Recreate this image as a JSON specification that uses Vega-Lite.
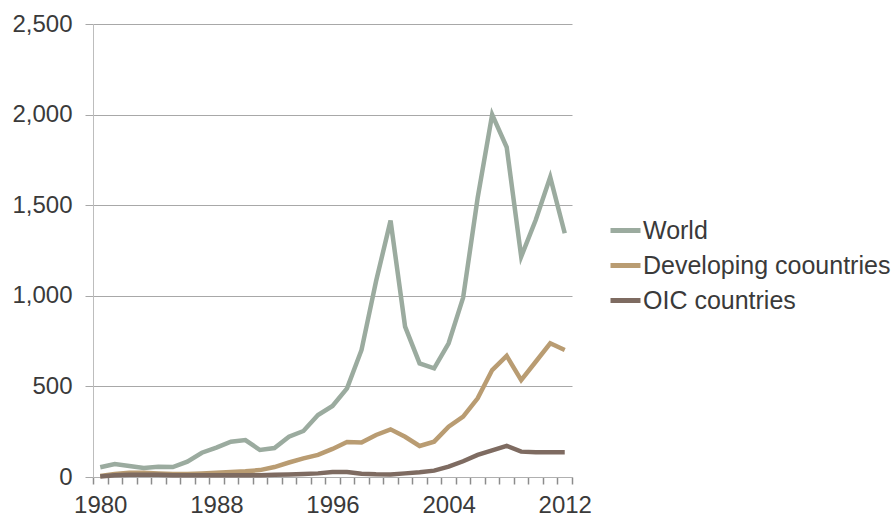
{
  "$schema": "https://vega.github.io/schema/vega-lite/v6.json",
  "autosize": "none",
  "padding": {"left": 93, "top": 24, "right": 319, "bottom": 40},
  "width": 479,
  "height": 453,
  "background": "white",
  "config": {
    "font": "Liberation Sans",
    "view": {"stroke": null},
    "axisX": {"ticks": true, "tickSize": 7, "tickColor": "#8c8c8c", "tickWidth": 1.5, "tickOpacity": 1}
  },
  "datasets": {
    "rows": [
      {"year": 1980, "series": "World", "value": 54},
      {"year": 1981, "series": "World", "value": 72},
      {"year": 1982, "series": "World", "value": 61},
      {"year": 1983, "series": "World", "value": 50},
      {"year": 1984, "series": "World", "value": 57},
      {"year": 1985, "series": "World", "value": 55},
      {"year": 1986, "series": "World", "value": 85},
      {"year": 1987, "series": "World", "value": 134},
      {"year": 1988, "series": "World", "value": 162},
      {"year": 1989, "series": "World", "value": 195},
      {"year": 1990, "series": "World", "value": 204},
      {"year": 1991, "series": "World", "value": 149},
      {"year": 1992, "series": "World", "value": 160},
      {"year": 1993, "series": "World", "value": 222},
      {"year": 1994, "series": "World", "value": 254},
      {"year": 1995, "series": "World", "value": 342},
      {"year": 1996, "series": "World", "value": 392},
      {"year": 1997, "series": "World", "value": 489},
      {"year": 1998, "series": "World", "value": 701},
      {"year": 1999, "series": "World", "value": 1080},
      {"year": 2000, "series": "World", "value": 1415},
      {"year": 2001, "series": "World", "value": 830},
      {"year": 2002, "series": "World", "value": 627},
      {"year": 2003, "series": "World", "value": 600},
      {"year": 2004, "series": "World", "value": 738},
      {"year": 2005, "series": "World", "value": 990},
      {"year": 2006, "series": "World", "value": 1540},
      {"year": 2007, "series": "World", "value": 2000},
      {"year": 2008, "series": "World", "value": 1820},
      {"year": 2009, "series": "World", "value": 1216},
      {"year": 2010, "series": "World", "value": 1418},
      {"year": 2011, "series": "World", "value": 1655},
      {"year": 2012, "series": "World", "value": 1345},
      {"year": 1980, "series": "Developing coountries", "value": 5},
      {"year": 1981, "series": "Developing coountries", "value": 17},
      {"year": 1982, "series": "Developing coountries", "value": 24},
      {"year": 1983, "series": "Developing coountries", "value": 24},
      {"year": 1984, "series": "Developing coountries", "value": 20},
      {"year": 1985, "series": "Developing coountries", "value": 17},
      {"year": 1986, "series": "Developing coountries", "value": 17},
      {"year": 1987, "series": "Developing coountries", "value": 20},
      {"year": 1988, "series": "Developing coountries", "value": 24},
      {"year": 1989, "series": "Developing coountries", "value": 28},
      {"year": 1990, "series": "Developing coountries", "value": 32},
      {"year": 1991, "series": "Developing coountries", "value": 38},
      {"year": 1992, "series": "Developing coountries", "value": 55},
      {"year": 1993, "series": "Developing coountries", "value": 80},
      {"year": 1994, "series": "Developing coountries", "value": 103},
      {"year": 1995, "series": "Developing coountries", "value": 122},
      {"year": 1996, "series": "Developing coountries", "value": 155},
      {"year": 1997, "series": "Developing coountries", "value": 193},
      {"year": 1998, "series": "Developing coountries", "value": 190},
      {"year": 1999, "series": "Developing coountries", "value": 232},
      {"year": 2000, "series": "Developing coountries", "value": 263},
      {"year": 2001, "series": "Developing coountries", "value": 222},
      {"year": 2002, "series": "Developing coountries", "value": 171},
      {"year": 2003, "series": "Developing coountries", "value": 195},
      {"year": 2004, "series": "Developing coountries", "value": 278},
      {"year": 2005, "series": "Developing coountries", "value": 333},
      {"year": 2006, "series": "Developing coountries", "value": 434},
      {"year": 2007, "series": "Developing coountries", "value": 590},
      {"year": 2008, "series": "Developing coountries", "value": 668},
      {"year": 2009, "series": "Developing coountries", "value": 535},
      {"year": 2010, "series": "Developing coountries", "value": 636},
      {"year": 2011, "series": "Developing coountries", "value": 738},
      {"year": 2012, "series": "Developing coountries", "value": 701},
      {"year": 1980, "series": "OIC countries", "value": 3},
      {"year": 1981, "series": "OIC countries", "value": 10},
      {"year": 1982, "series": "OIC countries", "value": 12},
      {"year": 1983, "series": "OIC countries", "value": 12},
      {"year": 1984, "series": "OIC countries", "value": 12},
      {"year": 1985, "series": "OIC countries", "value": 10},
      {"year": 1986, "series": "OIC countries", "value": 10},
      {"year": 1987, "series": "OIC countries", "value": 10},
      {"year": 1988, "series": "OIC countries", "value": 10},
      {"year": 1989, "series": "OIC countries", "value": 10},
      {"year": 1990, "series": "OIC countries", "value": 10},
      {"year": 1991, "series": "OIC countries", "value": 10},
      {"year": 1992, "series": "OIC countries", "value": 12},
      {"year": 1993, "series": "OIC countries", "value": 14},
      {"year": 1994, "series": "OIC countries", "value": 17},
      {"year": 1995, "series": "OIC countries", "value": 20},
      {"year": 1996, "series": "OIC countries", "value": 28},
      {"year": 1997, "series": "OIC countries", "value": 27},
      {"year": 1998, "series": "OIC countries", "value": 18},
      {"year": 1999, "series": "OIC countries", "value": 15},
      {"year": 2000, "series": "OIC countries", "value": 14},
      {"year": 2001, "series": "OIC countries", "value": 20},
      {"year": 2002, "series": "OIC countries", "value": 26},
      {"year": 2003, "series": "OIC countries", "value": 35},
      {"year": 2004, "series": "OIC countries", "value": 57},
      {"year": 2005, "series": "OIC countries", "value": 87},
      {"year": 2006, "series": "OIC countries", "value": 122},
      {"year": 2007, "series": "OIC countries", "value": 147},
      {"year": 2008, "series": "OIC countries", "value": 172},
      {"year": 2009, "series": "OIC countries", "value": 140},
      {"year": 2010, "series": "OIC countries", "value": 137},
      {"year": 2011, "series": "OIC countries", "value": 137},
      {"year": 2012, "series": "OIC countries", "value": 137}
    ]
  },
  "data": {"name": "rows"},
  "mark": {"type": "line", "strokeWidth": 4.5, "strokeJoin": "miter"},
  "encoding": {
    "x": {
      "field": "year",
      "type": "quantitative",
      "scale": {"domain": [1979.5, 2012.5], "nice": false, "zero": false},
      "axis": {
        "title": null,
        "values": [1979.5, 1980.5, 1981.5, 1982.5, 1983.5, 1984.5, 1985.5, 1986.5, 1987.5, 1988.5, 1989.5, 1990.5, 1991.5, 1992.5, 1993.5, 1994.5, 1995.5, 1996.5, 1997.5, 1998.5, 1999.5, 2000.5, 2001.5, 2002.5, 2003.5, 2004.5, 2005.5, 2006.5, 2007.5, 2008.5, 2009.5, 2010.5, 2011.5, 2012.5],
        "labelExpr": "(datum.value - 1979.5) % 8 === 0 ? format(datum.value + 0.5, 'd') : ''",
        "labelOffset": 7.26,
        "labelAngle": 0,
        "labelOverlap": false,
        "labelFlush": false,
        "labelBound": false,
        "labelFontSize": 24,
        "labelColor": "#3a3a3a",
        "labelPadding": 9,
        "ticks": true,
        "tickSize": 7,
        "tickWidth": 1.5,
        "tickColor": "#8c8c8c",
        "tickOpacity": 1,
        "domainColor": "#b0b0b0",
        "grid": false
      }
    },
    "y": {
      "field": "value",
      "type": "quantitative",
      "scale": {"domain": [0, 2500], "nice": false},
      "axis": {
        "title": null,
        "values": [0, 500, 1000, 1500, 2000, 2500],
        "format": ",d",
        "labelFontSize": 24,
        "labelColor": "#3a3a3a",
        "labelPadding": 13,
        "tickSize": 8,
        "tickColor": "#a8a8a8",
        "domainColor": "#bdbdbd",
        "gridColor": "#a8a8a8",
        "grid": true
      }
    },
    "color": {
      "field": "series",
      "type": "nominal",
      "scale": {
        "domain": ["World", "Developing coountries", "OIC countries"],
        "range": ["#9bab9f", "#b99c72", "#7e6b61"]
      },
      "legend": {
        "title": null,
        "orient": "none",
        "legendX": 515,
        "legendY": 189,
        "symbolType": "stroke",
        "symbolSize": 900,
        "symbolStrokeWidth": 5,
        "labelFontSize": 25,
        "labelColor": "#3a3a3a",
        "labelOffset": 0,
        "rowPadding": 4,
        "labelLimit": 400
      }
    }
  }
}
